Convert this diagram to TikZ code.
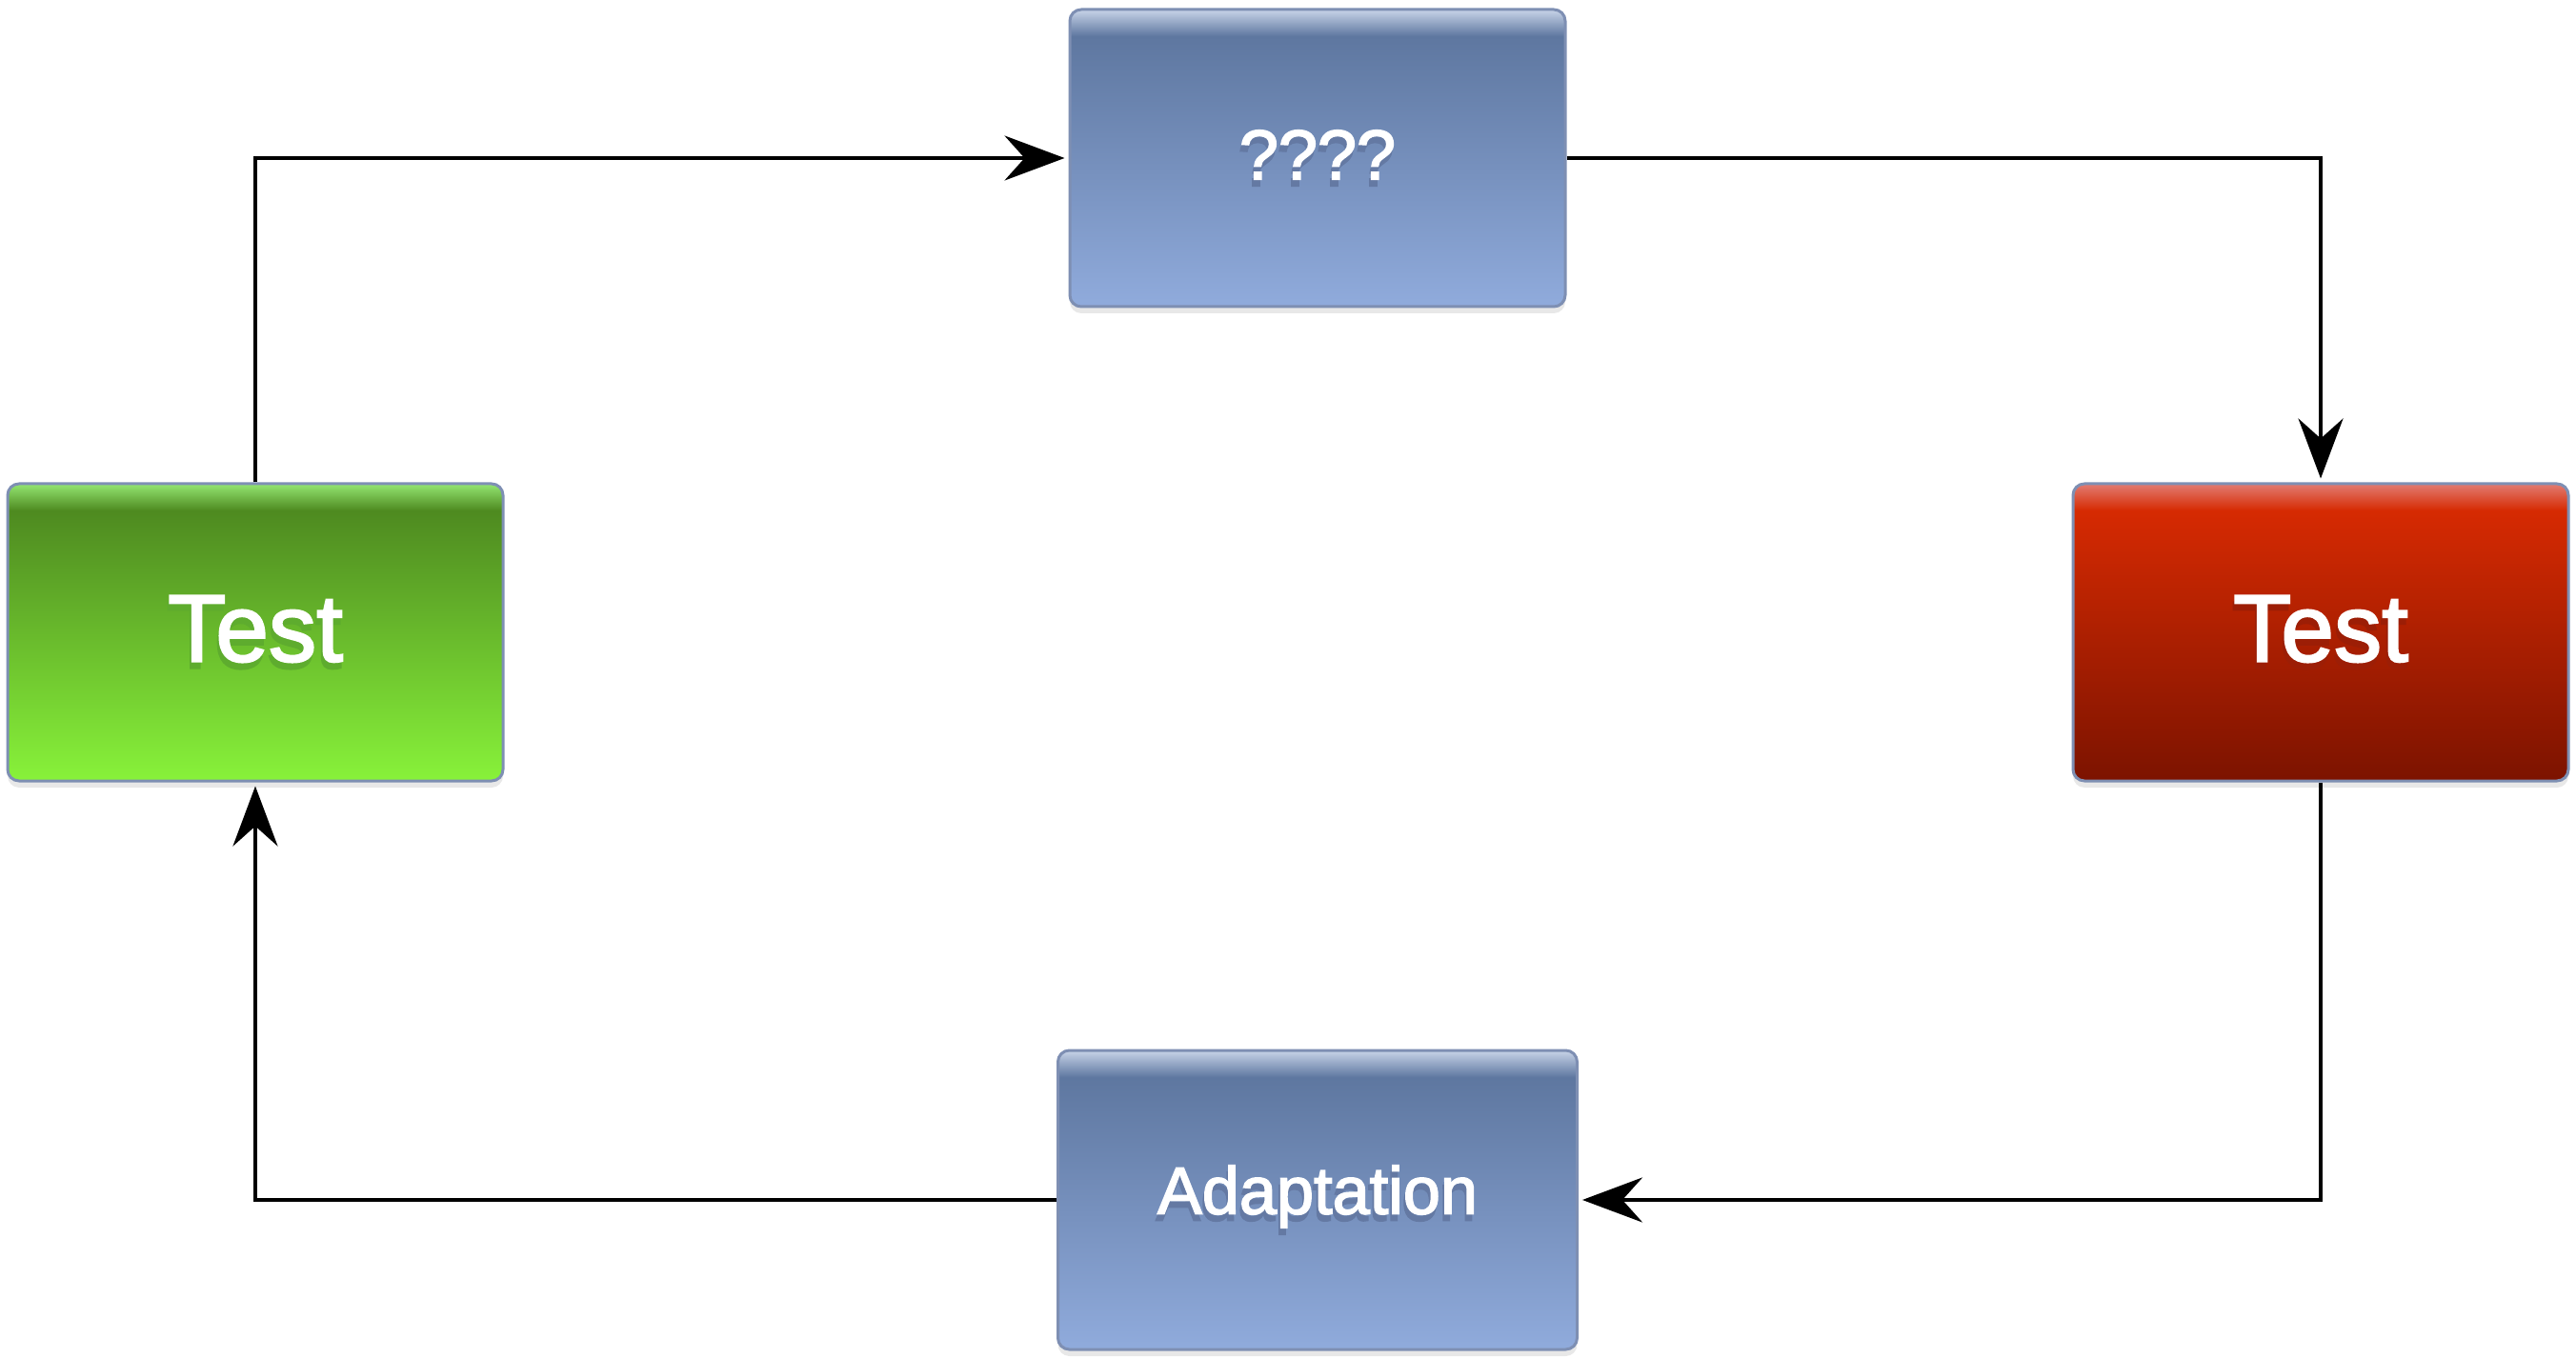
\documentclass[tikz,border=0pt]{standalone}
\usepackage{fontspec}
\setmainfont{Liberation Sans}
\newfontfamily\boxfont[FakeBold=2.2]{Liberation Sans}
\usetikzlibrary{arrows.meta,positioning,shadows}
\definecolor{boxline}{HTML}{7E8FB3}
\definecolor{blueband}{HTML}{C8D4E8}
\definecolor{bluetop}{HTML}{5E77A0}
\definecolor{bluebot}{HTML}{90ABDC}
\definecolor{blueshadow}{HTML}{6479A3}
\definecolor{greenband}{HTML}{94E672}
\definecolor{greentop}{HTML}{4E8A20}
\definecolor{greenbot}{HTML}{88F23A}
\definecolor{greenshadow}{HTML}{5EAC2E}
\definecolor{redband}{HTML}{E27C72}
\definecolor{redtop}{HTML}{D62A02}
\definecolor{redbot}{HTML}{7C1300}
\definecolor{redshadow}{HTML}{9C1E06}
\pgfdeclareverticalshading{blueshade}{100bp}{color(0bp)=(bluebot); color(25bp)=(bluebot); color(70.5bp)=(bluetop); color(75bp)=(blueband); color(100bp)=(blueband)}
\pgfdeclareverticalshading{greenshade}{100bp}{color(0bp)=(greenbot); color(25bp)=(greenbot); color(70.5bp)=(greentop); color(75bp)=(greenband); color(100bp)=(greenband)}
\pgfdeclareverticalshading{redshade}{100bp}{color(0bp)=(redbot); color(25bp)=(redbot); color(70.5bp)=(redtop); color(75bp)=(redband); color(100bp)=(redband)}
\tikzset{
  box/.style={draw=boxline, line width=0.03cm, rounded corners=0.12cm, align=center, text=white, inner sep=0pt,
    minimum width=5.2cm, minimum height=3.12cm,
    drop shadow={shadow xshift=0cm, shadow yshift=-0.07cm, opacity=0.18}},
  bl/.style={box, shading=blueshade},
  gr/.style={box, shading=greenshade},
  rd/.style={box, shading=redshade},
  arr/.style={-{Stealth[length=0.63cm, width=0.47cm, inset=0.21cm]}, line width=0.04cm, shorten >=0.04cm},
}
\newcommand{\txtshadow}[2]{\makebox[0pt][l]{\kern-0.5pt\raisebox{-2pt}{\textcolor{#1}{#2}}}#2}

\begin{document}
\begin{tikzpicture}
    \useasboundingbox (0,0) rectangle (27.04,14.25);
    \node[bl, font=\boxfont\fontsize{21}{25}\selectfont] (Q) at (13.83,12.59) {\txtshadow{blueshadow}{????}};
    % the two test boxes
    \node[gr, font=\boxfont\fontsize{28.5}{33}\selectfont, below left=1.83cm and 5.92cm of Q] (T1) {\txtshadow{greenshadow}{Test}};
    \node[rd, font=\boxfont\fontsize{28.5}{33}\selectfont, below right=1.83cm and 5.30cm of Q] (T2) {\txtshadow{redshadow}{Test}};
    \node[bl, font=\boxfont\fontsize{20}{24}\selectfont, minimum width=5.45cm, minimum height=3.14cm, below=7.78cm of Q] (A) {\txtshadow{blueshadow}{Adaptation}};
    \draw[arr] (T1.north) |- (Q.west);
    \draw[arr] (Q.east) -| (T2.north);
    \draw[arr] (T2.south) |- (A.east);
    \draw[arr] (A.west) -| (T1.south);
\end{tikzpicture}
\end{document}
